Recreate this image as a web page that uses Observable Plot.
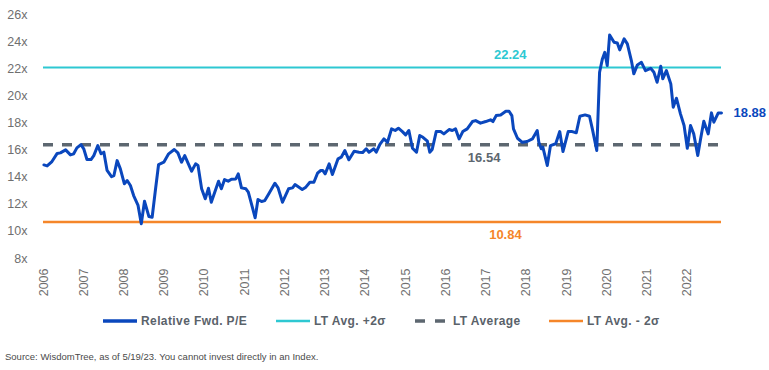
<!DOCTYPE html>
<html>
<head>
<meta charset="utf-8">
<script src="https://cdn.jsdelivr.net/npm/d3@7"></script>
<script src="https://cdn.jsdelivr.net/npm/@observablehq/plot@0.6"></script>
<style>
  html, body { margin: 0; padding: 0; background: #fff; }
  #wrap { width: 769px; height: 370px; position: relative; overflow: hidden; font-family: "Liberation Sans", Arial, sans-serif; }
  #legend { position: absolute; top: 306px; left: 0; width: 769px; height: 30px; }
  .item { position: absolute; top: 0; height: 30px; display: flex; align-items: center; font-weight: bold; font-size: 12px; color: #5a626a; letter-spacing: 0.4px; white-space: nowrap; }
  .swatch { width: 34px; margin-right: 4px; }
  #caption { position: absolute; left: 5px; top: 351px; font-size: 9.5px; color: #4a4a4a; white-space: nowrap; font-family: "Liberation Sans Narrow", "Liberation Sans", Arial, sans-serif; }
</style>
</head>
<body>
<div id="wrap">
  <div id="chart"></div>
  <div id="legend"></div>
  <div id="caption"></div>
</div>
<script>
// ---- Data ----
const dates = [
  2006.01, 2006.09, 2006.21, 2006.34, 2006.42, 2006.55, 2006.67, 2006.75, 2006.83, 2006.93,
  2007.00, 2007.08, 2007.18, 2007.25, 2007.35, 2007.43, 2007.50, 2007.58, 2007.69, 2007.75, 2007.83, 2007.91,
  2008.01, 2008.08, 2008.16, 2008.24, 2008.35, 2008.43, 2008.51, 2008.62, 2008.70, 2008.78, 2008.86, 2008.99,
  2009.11, 2009.25, 2009.34, 2009.43, 2009.51, 2009.68, 2009.78, 2009.84, 2009.93,
  2010.02, 2010.10, 2010.17, 2010.35, 2010.42, 2010.50, 2010.59, 2010.67, 2010.78, 2010.84, 2010.92,
  2011.03, 2011.09, 2011.19, 2011.26, 2011.33, 2011.42, 2011.50, 2011.60, 2011.75, 2011.83, 2011.94,
  2012.09, 2012.19, 2012.25, 2012.43, 2012.52, 2012.62, 2012.72, 2012.81, 2012.89, 2012.94,
  2013.00, 2013.10, 2013.18, 2013.32, 2013.40, 2013.49, 2013.59, 2013.72, 2013.84, 2013.93,
  2014.02, 2014.09, 2014.21, 2014.27, 2014.36, 2014.46, 2014.55, 2014.65, 2014.74, 2014.82, 2014.92,
  2015.00, 2015.08, 2015.17, 2015.27, 2015.35, 2015.43, 2015.54, 2015.60, 2015.66, 2015.76, 2015.87, 2015.95,
  2016.08, 2016.16, 2016.24, 2016.33, 2016.42, 2016.53, 2016.66, 2016.74, 2016.86, 2016.99,
  2017.11, 2017.17, 2017.25, 2017.36, 2017.49, 2017.57, 2017.64, 2017.68, 2017.78, 2017.90,
  2018.02, 2018.15, 2018.27, 2018.31, 2018.37, 2018.41, 2018.52, 2018.60, 2018.73, 2018.83, 2018.91,
  2019.04, 2019.14, 2019.24, 2019.33, 2019.46, 2019.57, 2019.64, 2019.75, 2019.82, 2019.89, 2019.95,
  2020.01, 2020.07, 2020.18, 2020.26, 2020.32, 2020.43, 2020.51, 2020.61, 2020.67, 2020.76, 2020.86, 2020.96,
  2021.09, 2021.17, 2021.25, 2021.34, 2021.39, 2021.48, 2021.59, 2021.65, 2021.73, 2021.83, 2021.92,
  2022.00, 2022.08, 2022.16, 2022.26, 2022.33, 2022.41, 2022.52, 2022.60, 2022.66, 2022.77, 2022.85
];
const relFwdPE = [
  15.05, 14.98, 15.3, 15.9, 15.94, 16.16, 15.79, 15.87, 16.31, 16.55,
  16.24, 15.45, 15.45, 15.74, 16.48, 15.87, 15.99, 14.64, 14.19, 14.27, 15.37, 14.76,
  13.66, 13.9, 13.53, 12.79, 12.06, 10.71, 12.37, 11.24, 11.19, 13.16, 15.08, 15.25,
  15.87, 16.19, 15.94, 15.25, 15.74, 14.59, 15.13, 15.01, 13.29,
  12.55, 13.33, 12.3, 13.85, 13.29, 13.97, 13.85, 14.0, 14.02, 14.39, 13.36,
  13.29, 13.04, 11.93, 11.15, 12.5, 12.35, 12.42, 12.92, 13.7, 13.36, 12.3,
  13.29, 13.36, 13.6, 13.24, 13.41, 13.77, 13.77, 14.44, 14.64, 14.64,
  14.39, 15.13, 14.34, 15.5, 15.62, 16.11, 15.43, 16.06, 15.99, 15.96,
  16.24, 15.99, 16.24, 15.99, 16.57, 16.97, 16.72, 17.71, 17.59, 17.76, 17.51,
  17.27, 17.59, 16.28, 15.99, 17.22, 17.09, 16.8, 15.99, 16.19, 17.51, 17.51, 17.34,
  17.66, 17.59, 17.71, 16.97, 17.51, 17.71, 18.25, 18.32, 18.13, 18.25,
  18.38, 18.25, 18.69, 18.74, 19.01, 19.01, 18.69, 17.71, 17.02, 16.72,
  16.78, 16.97, 17.59, 16.72, 16.24, 16.36, 15.01, 16.48, 16.61, 17.51, 16.04,
  17.51, 17.51, 17.42, 18.64, 18.74, 18.64, 17.71, 16.11, 21.89, 22.87, 23.36,
  22.38, 24.64, 24.1, 24.05, 23.54, 24.35, 23.98, 22.75, 21.77, 22.43, 22.62, 22.01,
  22.18, 21.89, 21.15, 22.33, 21.4, 22.01, 21.03, 19.31, 19.97, 18.82, 17.96,
  16.28, 17.96, 17.34, 15.74, 16.97, 18.27, 17.34, 18.89, 18.2, 18.89, 18.88
];
const ltPlus2 = 22.24;
const ltAvg = 16.54;
const ltMinus2 = 10.84;
const lastLabel = "18.88";
const xTicks = [2006, 2007, 2008, 2009, 2010, 2011, 2012, 2013, 2014, 2015, 2016, 2017, 2018, 2019, 2020, 2021, 2022];
const yTicks = [8, 10, 12, 14, 16, 18, 20, 22, 24, 26];
const seriesNames = ["Relative Fwd. P/E", "LT Avg. +2\u03c3", "LT Average", "LT Avg. - 2\u03c3"];
const captionText = "Source: WisdomTree, as of 5/19/23. You cannot invest directly in an Index.";

// ---- Colors ----
const cBlue = "#0a47bd", cCyan = "#2ec8d2", cGrey = "#5d6770", cOrange = "#f5862a";

const rows = dates.map((d, i) => ({date: d, value: relFwdPE[i]}));
const last = rows[rows.length - 1];

const chart = Plot.plot({
  width: 769,
  height: 305,
  marginLeft: 43,
  marginRight: 48,
  marginTop: 16,
  marginBottom: 45,
  style: {fontFamily: "Liberation Sans, Arial, sans-serif", background: "#fff", overflow: "visible"},
  x: {domain: [2006, 2022.85], label: null},
  y: {domain: [8, 26], label: null},
  marks: [
    Plot.axisY({ticks: yTicks, tickFormat: d => d + "x", tickSize: 0, tickPadding: 16, dy: -2, fontSize: 12.5, fill: "#6f6f6f", label: null}),
    Plot.axisX({ticks: xTicks, tickFormat: d => String(d), tickRotate: -90, tickSize: 0, tickPadding: 8, fontSize: 12.5, fill: "#6f6f6f", label: null}),
    Plot.ruleY([ltPlus2], {stroke: cCyan, strokeWidth: 2}),
    Plot.ruleY([ltMinus2], {stroke: cOrange, strokeWidth: 2.5}),
    Plot.ruleY([ltAvg], {stroke: cGrey, strokeWidth: 3.5, strokeDasharray: "10,9"}),
    Plot.line(rows, {x: "date", y: "value", stroke: cBlue, strokeWidth: 3, strokeLinejoin: "round"}),
    Plot.text([ltPlus2], {x: 2017.6, y: d => d, text: d => d.toFixed(2), dy: -13, fill: cCyan, fontWeight: "bold", fontSize: 13}),
    Plot.text([ltAvg], {x: 2016.95, y: d => d, text: d => d.toFixed(2), dy: 13, fill: cGrey, fontWeight: "bold", fontSize: 13}),
    Plot.text([ltMinus2], {x: 2017.48, y: d => d, text: d => d.toFixed(2), dy: 12.5, fill: cOrange, fontWeight: "bold", fontSize: 13}),
    Plot.text([last], {x: "date", y: "value", text: () => lastLabel, dx: 12, textAnchor: "start", fill: cBlue, fontWeight: "bold", fontSize: 13})
  ]
});
document.getElementById("chart").appendChild(chart);

// ---- Legend ----
const legendPos = [103, 276, 415, 549];
const legendSw = [
  `<svg class="swatch" width="34" height="6"><line x1="0" x2="34" y1="3" y2="3" stroke="${cBlue}" stroke-width="3.5"/></svg>`,
  `<svg class="swatch" width="34" height="6"><line x1="0" x2="34" y1="3" y2="3" stroke="${cCyan}" stroke-width="2.5"/></svg>`,
  `<svg class="swatch" width="34" height="6"><line x1="0" x2="34" y1="3" y2="3" stroke="${cGrey}" stroke-width="3.5" stroke-dasharray="10,10"/></svg>`,
  `<svg class="swatch" width="34" height="6"><line x1="0" x2="34" y1="3" y2="3" stroke="${cOrange}" stroke-width="2.5"/></svg>`
];
const legend = document.getElementById("legend");
seriesNames.forEach((name, i) => {
  const el = document.createElement("div");
  el.className = "item";
  el.style.left = legendPos[i] + "px";
  el.innerHTML = legendSw[i] + `<span>${name}</span>`;
  legend.appendChild(el);
});
document.getElementById("caption").textContent = captionText;
</script>
</body>
</html>
